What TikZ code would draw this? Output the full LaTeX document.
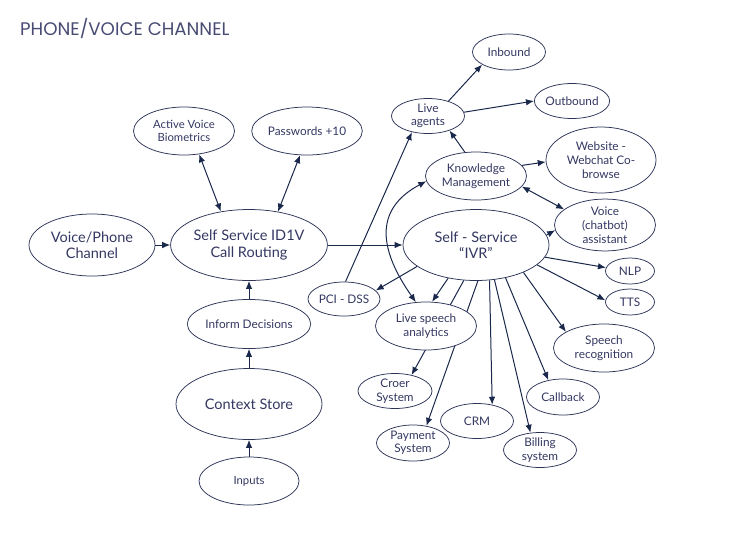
\documentclass[tikz,border=0pt]{standalone}
\usepackage{fontspec}
\setmainfont{Lato}
\newfontfamily\titlefont{Poppins}
\usepackage{tikz}
\usetikzlibrary{shapes.geometric,arrows.meta,backgrounds}
\definecolor{textcol}{RGB}{52,56,98}
\definecolor{linecol}{RGB}{26,40,76}
\definecolor{rimcol}{RGB}{45,52,88}

\begin{document}
\begin{tikzpicture}[
    x=1pt, y=-1pt,
    bubble/.style={ellipse, draw=rimcol, line width=0.75pt, fill=white, inner sep=0pt,
                   align=center, text=textcol},
    bigbubble/.style={bubble, minimum width=146pt, minimum height=71pt,
                      font=\fontsize{14.5}{16.5}\selectfont},
    midbubble/.style={bubble, minimum width=101pt, minimum height=48pt,
                      font=\fontsize{11.8}{14}\selectfont},
    smallbubble/.style={bubble, minimum width=73pt, minimum height=35pt,
                        font=\fontsize{11.8}{13.5}\selectfont},
    link/.style={-{Latex[length=8pt,width=6.5pt]}, draw=linecol, line width=1pt},
    twoway/.style={{Latex[length=8pt,width=6.5pt]}-{Latex[length=8pt,width=6.5pt]}, draw=linecol, line width=1pt}
]
    \useasboundingbox (0,0) rectangle (731,547);

    % Title
    \node[anchor=base west, inner sep=0pt, text=textcol!90,
          font=\titlefont\fontsize{18.2}{20}\selectfont] (title) at (20,35) {PHONE/VOICE CHANNEL};

    % Left part
    \node[bigbubble, minimum width=126pt, minimum height=62pt] (VP) at (92,245) {Voice/Phone\\Channel};
    \node[bigbubble] (CR) at (249,245) {Self Service ID1V\\Call Routing};
    \node[midbubble, font=\fontsize{11.3}{13.5}\selectfont] (Bio) at (184,131) {Active Voice\\Biometrics};
    \node[midbubble] (PW) at (307,131) {Passwords +10};
    \node[midbubble, minimum width=100pt, minimum height=49pt] (ID) at (249,324) {Inform Decisions};
    \node[bigbubble] (CS) at (249,404) {Context Store};
    \node[midbubble, minimum width=100pt, font=\fontsize{11.3}{13.5}\selectfont] (IN) at (249,481) {Inputs};

    % IVR and its neighbours
    \node[bigbubble] (IVR) at (476,245) {Self - Service\\``IVR''};
    \node[smallbubble] (LA) at (428,116) {Live\\agents};
    \node[smallbubble, minimum height=36pt] (IB) at (509,52) {Inbound};
    \node[smallbubble] (OB) at (572,101) {Outbound};
    \node[midbubble] (KM) at (476,176) {Knowledge\\Management};
    \node[midbubble, minimum width=110pt, minimum height=66pt] (WS) at (601,160) {Website -\\Webchat Co-\\browse};
    \node[midbubble, minimum height=49pt] (VA) at (605,225) {Voice\\(chatbot)\\assistant};
    \node[smallbubble, minimum width=49pt, minimum height=26pt] (NLP) at (630,271) {NLP};
    \node[smallbubble, minimum width=49pt, minimum height=26pt] (TTS) at (630,302) {TTS};
    \node[midbubble] (SR) at (604,348) {Speech\\recognition};
    \node[smallbubble, minimum width=72pt, minimum height=34pt] (PCI) at (344,299) {PCI - DSS};
    \node[midbubble] (LSA) at (426,326) {Live speech\\analytics};
    \node[smallbubble, minimum width=74pt] (CRS) at (395,391) {Croer\\System};
    \node[smallbubble, minimum height=36pt] (PS) at (413,443) {Payment\\System};
    \node[smallbubble] (CRM) at (477,421) {CRM};
    \node[smallbubble, minimum height=36pt] (CB) at (563,397) {Callback};
    \node[smallbubble] (BS) at (540,450) {Billing\\system};

    % Connectors (behind the bubbles)
    \begin{scope}[on background layer]
    \draw[link] (VP) -- (CR);
    \draw[twoway] (Bio.303) -- (CR.130);
    \draw[twoway] (PW.254) -- (CR.49);
    \draw[link] (ID) -- (CR);
    \draw[link] (CS) -- (ID);
    \draw[link] (IN) -- (CS);
    \draw[link] (CR) -- (IVR);

    \draw[link] (PCI.85) -- (LA.225);
    \draw[link] (LA.36) -- (IB.205);
    \draw[link] (LA.6) -- (OB.west);
    \draw[link] (KM.115) -- (LA.326);
    \draw[link] (KM.13) -- (WS.182);
    \draw[twoway] (KM.347) -- (VA.159);
    \draw[twoway] (KM.186) to[out=208, in=125, looseness=1.3] (LSA.113);

    \draw[link] (IVR.8) -- (VA.186);
    \draw[link] (IVR.350) -- (NLP.172);
    \draw[link] (IVR.342) -- (TTS.176);
    \draw[link] (IVR.330) -- (SR.157);
    \draw[link] (IVR.312) -- (CB.131);
    \draw[link] (IVR.298) -- (BS.119);
    \draw[link] (IVR.291) -- (CRM.47);
    \draw[link] (IVR.273) -- (PS.52);
    \draw[link] (IVR.251) -- (CRS.44);
    \draw[link] (IVR.230) -- (LSA.76);
    \draw[link] (IVR.200) -- (PCI.15);
    \end{scope}
\end{tikzpicture}
\end{document}
